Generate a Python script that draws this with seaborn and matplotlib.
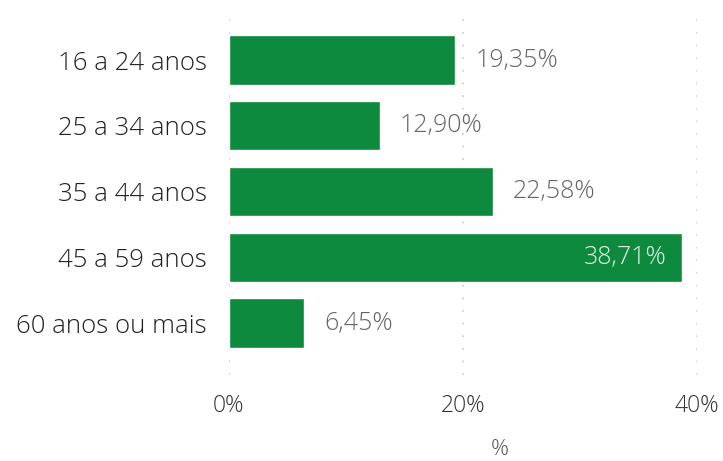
import matplotlib.pyplot as plt
import seaborn as sns
import pandas as pd

# data
faixas = ["16 a 24 anos", "25 a 34 anos", "35 a 44 anos", "45 a 59 anos", "60 anos ou mais"]
percentuais = [19.35, 12.90, 22.58, 38.71, 6.45]
ticks = [0, 20, 40]
tick_labels = ["0%", "20%", "40%"]

df = pd.DataFrame({"faixa": faixas, "pct": percentuais})

sns.set_style("white")
plt.rcParams["font.family"] = ["Open Sans", "DejaVu Sans"]
plt.rcParams["font.weight"] = "light"

fig = plt.figure(figsize=(7.23, 4.61), dpi=100)
# axes area in pixels: x 229..697, y 13..375
ax = fig.add_axes([229 / 723, 86 / 461, 468 / 723, 362 / 461])

green = "#0e8a3e"
sns.barplot(data=df, x="pct", y="faixa", color=green, saturation=1, width=0.75, ax=ax)

ax.set_xlim(0, 40)
ax.set_ylim(4.79, -0.715)
ax.set_xticks(ticks)
ax.set_xticklabels(tick_labels)
for x in ticks:
    ax.axvline(x, color="#d0d0d0", linestyle=(0, (1, 6)), linewidth=1.3, zorder=0)

# value labels, the longest bar gets its label inside
vmax = max(percentuais)
for i, v in enumerate(percentuais):
    txt = f"{v:.2f}%".replace(".", ",")
    if v == vmax:
        ax.text(v - 1.3, i, txt, ha="right", va="center", color="#dff5e5", fontsize=18)
    else:
        ax.text(v + 1.7, i, txt, ha="left", va="center", color="#666666", fontsize=18)

sns.despine(ax=ax, left=True, bottom=True)
ax.tick_params(axis="y", length=0, pad=16, labelsize=18.5, labelcolor="#222222")
ax.tick_params(axis="x", length=0, pad=14, labelsize=16.5, labelcolor="#333333")
ax.set_ylabel("")
ax.set_xlabel("")

# axis title sits at the very bottom edge
fig.text(500 / 723, 0.002, "%", ha="center", va="bottom", fontsize=16, color="#555555")

fig.savefig("out.png", dpi=100)
